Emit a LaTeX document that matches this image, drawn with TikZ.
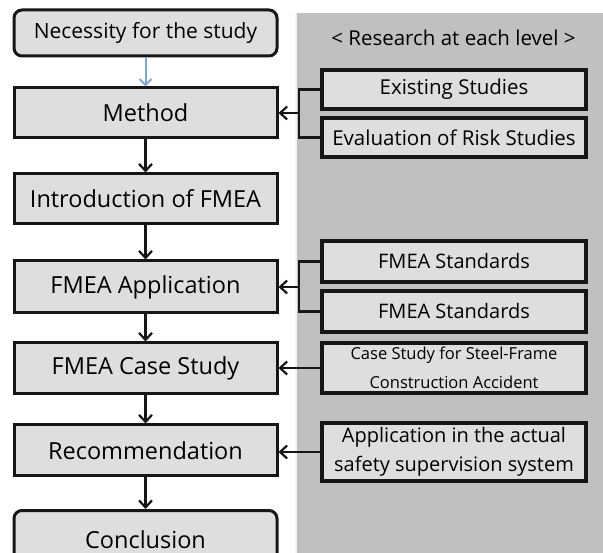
\documentclass[tikz,border=0pt]{standalone}
\usepackage{fontspec}
\setmainfont{Open Sans}
\usetikzlibrary{arrows.meta}
\definecolor{panelgray}{HTML}{C0C0C0}
\definecolor{boxgray}{HTML}{DEDEDE}
\definecolor{edgedark}{HTML}{161616}
\definecolor{flowblue}{HTML}{7FA7D0}
\begin{document}
\begin{tikzpicture}[x=1pt,y=-1pt,
  stagebox/.style={draw=edgedark,fill=boxgray,line width=3pt,minimum width=263pt,
    inner sep=0pt,font=\fontsize{23.5}{26}\selectfont},
  endbox/.style={stagebox,rounded corners=8pt},
  studybox/.style={draw=edgedark,fill=boxgray,line width=3.4pt,minimum width=264pt,
    inner sep=0pt,align=center},
  tip/.style={-{Straight Barb[length=7pt,width=13pt,line width=2.2pt]}},
  flow/.style={draw=edgedark,line width=2.2pt,tip},
  feed/.style={draw=edgedark,line width=2.2pt,tip},
  bracket/.style={draw=edgedark,line width=2.2pt}
]
\clip (0,0) rectangle (603,553);
\fill[white] (0,0) rectangle (603,553);
% research panel
\fill[panelgray] (295,13) rectangle (603,553);
\draw[white!80!panelgray,line width=2pt] (296,13) -- (296,553);
\node[font=\fontsize{20.5}{24}\selectfont] (head) at (453.5,38) {< Research at each level >};

% main stages
\node[endbox,minimum height=46pt,font=\fontsize{21}{24}\selectfont] (need) at (145.5,33) {Necessity for the study};
\node[stagebox,minimum height=50pt] (method) at (145.5,113) {Method};
\node[stagebox,minimum height=50pt] (intro) at (145.5,199) {Introduction of FMEA};
\node[stagebox,minimum height=52pt] (appl) at (145.5,287) {FMEA Application};
\node[stagebox,minimum height=51pt] (case) at (145.5,368.5) {FMEA Case Study};
\node[stagebox,minimum height=51pt] (rec) at (145.5,450.5) {Recommendation};
\node[endbox,minimum height=60pt,anchor=north] (concl) at (145.5,509) {};
\node[font=\fontsize{23.5}{26}\selectfont] (conclt) at (145.5,540) {Conclusion};

% research boxes
\node[studybox,minimum height=39pt,font=\fontsize{20.5}{24}\selectfont] (exist) at (454,89.5) {Existing Studies};
\node[studybox,minimum height=39pt,font=\fontsize{20.5}{24}\selectfont] (risk) at (454,137.5) {Evaluation of Risk Studies};
\node[studybox,minimum height=41pt,font=\fontsize{20}{24}\selectfont] (std1) at (454,261.5) {FMEA Standards};
\node[studybox,minimum height=41pt,font=\fontsize{20}{24}\selectfont] (std2) at (454,311.5) {FMEA Standards};
\node[studybox,minimum height=50pt,font=\fontsize{16.5}{29}\selectfont] (steel) at (454,368) {Case Study for Steel-Frame\\Construction Accident};
\node[studybox,minimum height=58pt,font=\fontsize{20}{29}\selectfont] (actual) at (454,452) {Application in the actual\\safety supervision system};

% flow between stages
\draw[draw=flowblue,line width=2pt,-{Straight Barb[length=6pt,width=12pt,line width=2pt]}] (need) -- (method);
\draw[flow] (method) -- (intro);
\draw[flow] (intro) -- (appl);
\draw[flow] (appl) -- (case);
\draw[flow] (case) -- (rec);
\draw[flow] (rec) -- (concl);

% research feeding into stages
\coordinate (b1) at (299,113);
\draw[bracket] (exist.west) -| (b1) |- (risk.west);
\draw[feed] (b1) -- (method.east);
\coordinate (b2) at (299,287);
\draw[bracket] (std1.west) -| (b2) |- (std2.west);
\draw[feed] (b2) -- (appl.east);
\draw[feed] (steel.west) -- (steel.west -| case.east);
\draw[feed] (actual.west) -- (actual.west -| rec.east);
\end{tikzpicture}
\end{document}
